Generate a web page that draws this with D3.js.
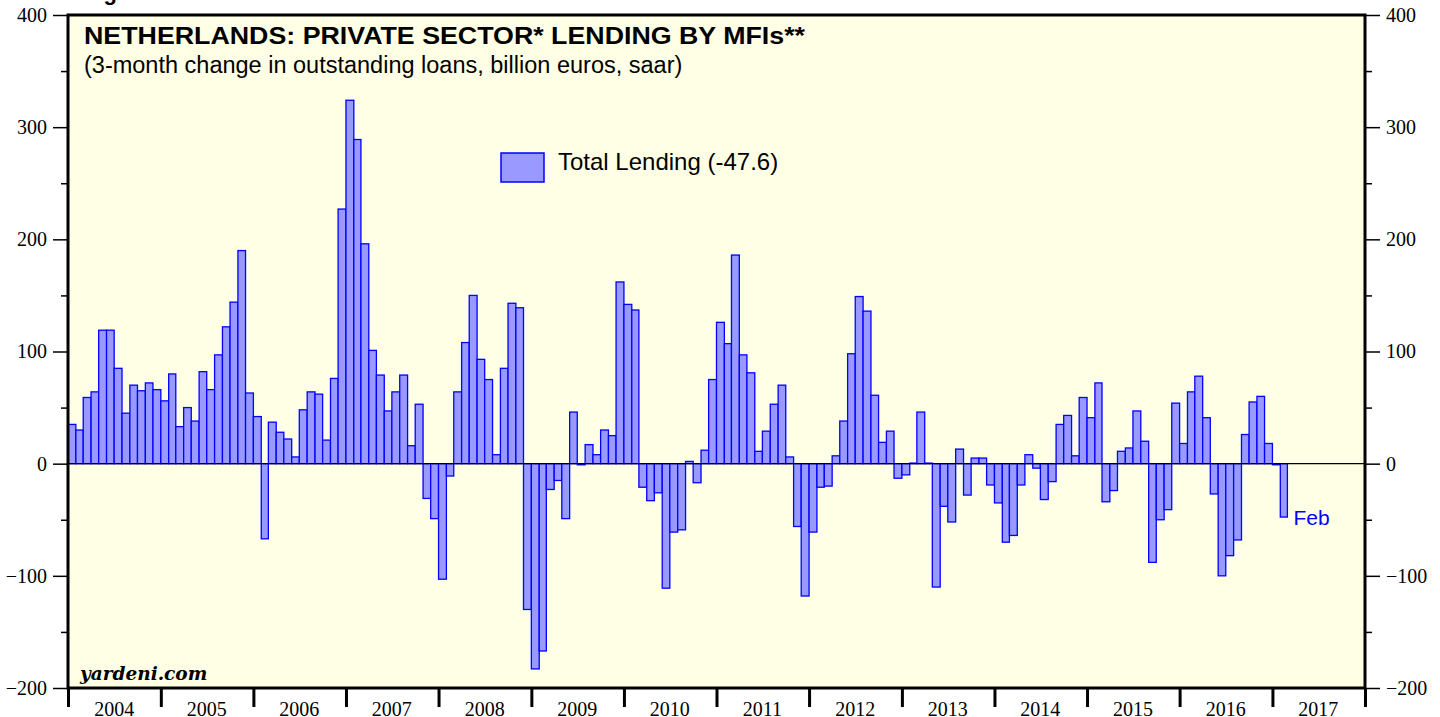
<!DOCTYPE html>
<html>
<head>
<meta charset="utf-8">
<script src="https://cdn.jsdelivr.net/npm/d3@7"></script>
<style>
  html, body { margin: 0; padding: 0; background: #fff; }
  svg { display: block; }
</style>
</head>
<body>
<svg id="chart"></svg>
<script>
const title = "NETHERLANDS: PRIVATE SECTOR* LENDING BY MFIs**";
const subtitle = "(3-month change in outstanding loans, billion euros, saar)";
const figureLabel = "Figure 6.";
const seriesName = "Total Lending (-47.6)";
const lastLabel = "Feb";
const source = "yardeni.com";

const firstMonth = "2004-01";
const yearLabels = [2004, 2005, 2006, 2007, 2008, 2009, 2010, 2011, 2012, 2013, 2014, 2015, 2016, 2017];
const yTicks = [-200, -100, 0, 100, 200, 300, 400];
const yMinorTicks = [-150, -50, 50, 150, 250, 350];

// monthly, Jan 2004 .. Feb 2017
const lending = [
  35, 30, 59, 64, 119, 119, 85, 45, 70, 65, 72, 66,          // 2004
  56, 80, 33, 50, 38, 82, 66, 97, 122, 144, 190, 63,         // 2005
  42, -67, 37, 28, 22, 6, 48, 64, 62, 21, 76, 227,           // 2006
  324, 289, 196, 101, 79, 47, 64, 79, 16, 53, -31, -49,      // 2007
  -103, -11, 64, 108, 150, 93, 75, 8, 85, 143, 139, -130,    // 2008
  -183, -167, -23, -15, -49, 46, -1, 17, 8, 30, 25, 162,     // 2009
  142, 137, -21, -33, -26, -111, -61, -59, 2, -17, 12, 75,   // 2010
  126, 107, 186, 97, 81, 11, 29, 53, 70, 6, -56, -118,       // 2011
  -61, -21, -20, 7, 38, 98, 149, 136, 61, 19, 29, -13,       // 2012
  -10, 0.5, 46, 0.5, -110, -38, -52, 13, -28, 5, 5, -19,     // 2013
  -35, -70, -64, -19, 8, -4, -32, -16, 35, 43, 7, 59,        // 2014
  41, 72, -34, -24, 11, 14, 47, 20, -88, -50, -41, 54,       // 2015
  18, 64, 78, 41, -27, -100, -82, -68, 26, 55, 60, 18,       // 2016
  -1, -47.6                                                  // 2017
];

const width = 1440, height = 717;
const margin = { top: 15, right: 75, bottom: 29, left: 68 };
const serif = "'Liberation Serif', 'Times New Roman', serif";
const sans = "'Liberation Sans', Arial, Helvetica, sans-serif";

const svg = d3.select("#chart").attr("width", width).attr("height", height);

const start = d3.timeParse("%Y-%m")(firstMonth);
const data = lending.map((v, i) => ({ date: d3.timeMonth.offset(start, i), value: v }));

const x = d3.scaleTime()
  .domain([new Date(yearLabels[0], 0, 1), new Date(yearLabels[yearLabels.length - 1] + 1, 0, 1)])
  .range([margin.left, width - margin.right]);

const y = d3.scaleLinear()
  .domain([-200, 400])
  .range([height - margin.bottom, margin.top]);

// plot background
svg.append("rect")
  .attr("x", margin.left)
  .attr("y", margin.top)
  .attr("width", width - margin.left - margin.right)
  .attr("height", height - margin.top - margin.bottom)
  .attr("fill", "#ffffe6");

// figure caption, cut off by the top edge as in the source image
svg.append("text")
  .attr("x", 84).attr("y", 0)
  .attr("font-family", sans).attr("font-weight", "bold").attr("font-size", 22)
  .text(figureLabel);

// bars
svg.append("g")
  .selectAll("rect")
  .data(data)
  .join("rect")
  .attr("x", (d) => x(d.date))
  .attr("width", (d) => x(d3.timeMonth.offset(d.date, 1)) - x(d.date))
  .attr("y", (d) => y(Math.max(0, d.value)))
  .attr("height", (d) => Math.abs(y(d.value) - y(0)))
  .attr("fill", "#9999ff")
  .attr("stroke", "#0000ff")
  .attr("stroke-width", 1.3);

// zero line
svg.append("line")
  .attr("x1", margin.left).attr("x2", width - margin.right)
  .attr("y1", y(0)).attr("y2", y(0))
  .attr("stroke", "#000").attr("stroke-width", 1.2);

// y axes, left and right
function yAxis(axisFn, xPos) {
  const major = svg.append("g")
    .attr("transform", `translate(${xPos},0)`)
    .call(axisFn(y).tickValues(yTicks).tickSize(15).tickPadding(6).tickFormat(d3.format("d")));
  major.select(".domain").remove();
  major.selectAll("line").attr("stroke-width", 1.5);
  major.selectAll("text")
    .attr("font-family", serif).attr("font-size", 20).attr("fill", "#000");

  const minor = svg.append("g")
    .attr("transform", `translate(${xPos},0)`)
    .call(axisFn(y).tickValues(yMinorTicks).tickSize(7).tickFormat(""));
  minor.select(".domain").remove();
  minor.selectAll("line").attr("stroke-width", 1.5);
}
yAxis(d3.axisLeft, margin.left);
yAxis(d3.axisRight, width - margin.right);

// x axis: year boundaries as ticks, labels centred in each year
const yearTicks = d3.timeYear.range(x.domain()[0], d3.timeDay.offset(x.domain()[1], 1));
const xAxis = svg.append("g")
  .attr("transform", `translate(0,${height - margin.bottom})`)
  .call(d3.axisBottom(x).tickValues(yearTicks).tickSize(19).tickFormat(""));
xAxis.select(".domain").remove();
xAxis.selectAll("line").attr("stroke-width", 3);

svg.append("g")
  .selectAll("text")
  .data(yearLabels)
  .join("text")
  .attr("x", (d) => x(new Date(d, 6, 1)))
  .attr("y", 716)
  .attr("text-anchor", "middle")
  .attr("font-family", serif).attr("font-size", 20)
  .text((d) => d);

// frame
svg.append("rect")
  .attr("x", margin.left)
  .attr("y", margin.top)
  .attr("width", width - margin.left - margin.right)
  .attr("height", height - margin.top - margin.bottom)
  .attr("fill", "none")
  .attr("stroke", "#000")
  .attr("stroke-width", 3);

// titles
svg.append("text")
  .attr("x", 84).attr("y", 44)
  .attr("font-family", sans).attr("font-weight", "bold").attr("font-size", 23)
  .attr("textLength", 721).attr("lengthAdjust", "spacingAndGlyphs")
  .text(title);

svg.append("text")
  .attr("x", 84).attr("y", 73)
  .attr("font-family", sans).attr("font-size", 23.5)
  .text(subtitle);

// legend
svg.append("rect")
  .attr("x", 501).attr("y", 153)
  .attr("width", 43).attr("height", 29)
  .attr("fill", "#9999ff").attr("stroke", "#0000ff").attr("stroke-width", 1.5);

svg.append("text")
  .attr("x", 558).attr("y", 170)
  .attr("font-family", sans).attr("font-size", 24)
  .text(seriesName);

// last value marker
const last = data[data.length - 1];
svg.append("text")
  .attr("x", x(d3.timeMonth.offset(last.date, 1)) + 6)
  .attr("y", y(last.value) + 8)
  .attr("font-family", sans).attr("font-size", 21).attr("fill", "#0000ff")
  .text(lastLabel);

// source
svg.append("text")
  .attr("x", 80).attr("y", 680)
  .attr("font-family", "'DejaVu Serif', serif").attr("font-weight", "bold")
  .attr("font-style", "italic").attr("font-size", 18.5)
  .text(source);
</script>
</body>
</html>
